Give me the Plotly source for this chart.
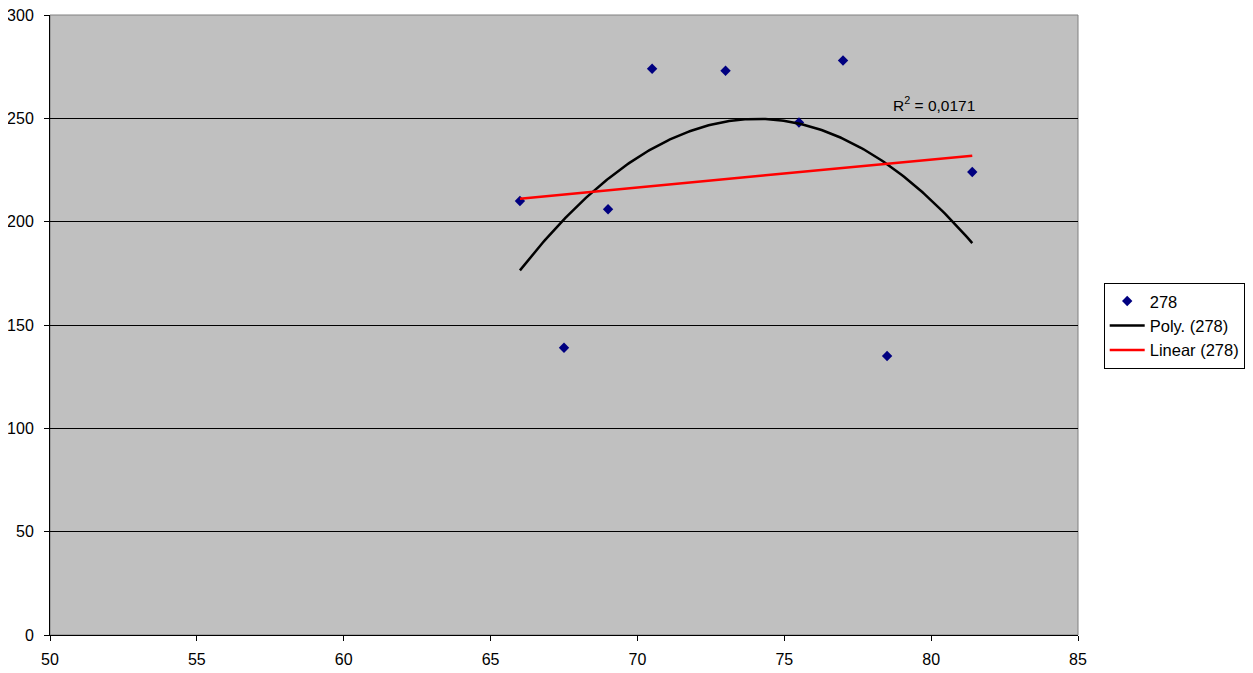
import numpy as np
import plotly.graph_objects as go

x_vals = [66.0, 67.5, 69.0, 70.5, 73.0, 75.5, 77.0, 78.5, 81.4]
y_vals = [210, 139, 206, 274, 273, 248, 278, 135, 224]
series_name = "278"
r2_label = "R<sup>2</sup> = 0,0171"

xa = np.array(x_vals)
ya = np.array(y_vals)
xs = np.linspace(xa.min(), xa.max(), 200)
poly = np.polyval(np.polyfit(xa, ya, 2), xs)
lin = np.polyval(np.polyfit(xa, ya, 1), xs)

fig = go.Figure()
fig.add_trace(go.Scatter(x=x_vals, y=y_vals, mode="markers", name=series_name,
                         marker=dict(symbol="diamond", color="#000080", size=8)))
fig.add_trace(go.Scatter(x=xs, y=poly, mode="lines", name="Poly. (278)",
                         line=dict(color="black", width=2.5)))
fig.add_trace(go.Scatter(x=xs, y=lin, mode="lines", name="Linear (278)",
                         line=dict(color="#FF0000", width=2.5)))

fig.add_annotation(x=78.63, y=257, text=r2_label, showarrow=False, xanchor="left",
                   yanchor="middle", font=dict(size=15.5, color="black"))

fig.update_layout(
    width=1245, height=665,
    margin=dict(l=42, r=175, t=7, b=38, autoexpand=False),
    paper_bgcolor="white", plot_bgcolor="#C0C0C0",
    font=dict(family="Liberation Sans, Arial", size=16, color="black"),
    showlegend=True,
    legend=dict(x=1.025, y=0.568, xanchor="left", yanchor="top",
                bordercolor="black", borderwidth=1, bgcolor="white",
                font=dict(size=16.5), tracegroupgap=0, itemwidth=35),
    xaxis=dict(range=[50, 85], dtick=5, tick0=50, showgrid=False, zeroline=False,
               showline=True, linecolor="black", linewidth=1, mirror=False,
               ticks="outside", ticklen=5, tickcolor="black",
               tickfont=dict(size=16), ticklabelstandoff=5, ticklabeloverflow="allow"),
    yaxis=dict(range=[0, 300], dtick=50, showgrid=True, gridcolor="black", gridwidth=1,
               zeroline=False, showline=True, linecolor="black", linewidth=1,
               ticks="outside", ticklen=5, tickcolor="black",
               tickfont=dict(size=16), ticklabelstandoff=7, ticklabeloverflow="allow"),
    shapes=[dict(type="rect", xref="paper", yref="paper", x0=0, x1=1, y0=0, y1=1,
                 line=dict(color="#808080", width=1), layer="below")],
)
fig.write_html("out.html")
